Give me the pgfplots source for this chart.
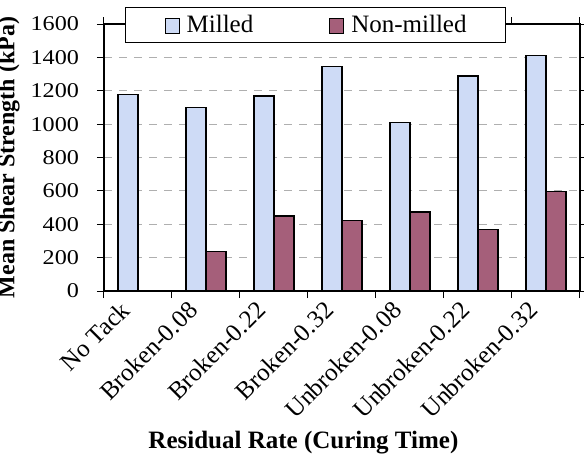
\documentclass[border=0pt]{standalone}
\usepackage{fontspec}
\setmainfont{Liberation Serif}
\usepackage{pgfplots}
\pgfplotsset{compat=1.18}
\definecolor{milled}{RGB}{206,219,246}
\definecolor{nonmilled}{RGB}{165,95,122}
\definecolor{gridgray}{RGB}{175,175,175}
\begin{document}
\begin{tikzpicture}
\path[use as bounding box] (-104pt,-165pt) rectangle (480pt,291pt);
\begin{axis}[
  at={(0pt,0pt)}, anchor=south west,
  scale only axis, width=476pt, height=267pt,
  ybar=0pt, bar width=20pt,
  xmin=-0.5, xmax=6.5, ymin=0, ymax=1600,
  xtick={0,...,6},
  xticklabels={No Tack,Broken-0.08,Broken-0.22,Broken-0.32,Unbroken-0.08,Unbroken-0.22,Unbroken-0.32},
  minor xtick={-0.5,0.5,...,6.5},
  major x tick style={draw=none},
  ytick={0,200,...,1600},
  tick align=outside,
  major tick length=7pt, minor tick length=7pt,
  every tick/.style={black, line width=1pt},
  ymajorgrids,
  grid style={gridgray, dash pattern=on 8pt off 7pt, line width=1pt},
  axis line style={line width=1.3pt},
  /pgf/number format/assume math mode=true,
  /pgf/number format/1000 sep={},
  yticklabel style={font=\fontsize{21}{24}\selectfont, black, xshift=-14pt, xscale=1.15, anchor=east},
  xticklabel style={font=\fontsize{25}{27}\selectfont, black, xshift=-13pt, yshift=-8pt, rotate=45, anchor=east, inner sep=0pt},
  xlabel={Residual Rate (Curing Time)},
  xlabel style={font=\bfseries\fontsize{25}{28}\selectfont, at={(axis description cs:0.419,-0.569)}, anchor=center},
  ylabel={Mean Shear Strength (kPa)},
  ylabel style={font=\bfseries\fontsize{24}{28}\selectfont, at={(axis description cs:-0.2,0.5)}, anchor=center},
  legend style={at={(axis description cs:0.0441,1.0637)}, anchor=north west, legend columns=-1,
    draw=black, line width=1.3pt, fill=white,
    font=\fontsize{25}{28}\selectfont,
    nodes={inner sep=0pt},
    inner xsep=39pt, inner ysep=8pt,
    /tikz/every odd column/.append style={column sep=7pt},
    /tikz/every even column/.append style={column sep=76pt}},
  legend image code/.code={\draw[#1, draw=black, line width=1pt] (0pt,-8pt) rectangle (14pt,7pt);},
]
\addplot[fill=milled, draw=black, line width=1.2pt] coordinates {(0,1176)(1,1098)(2,1168)(3,1346)(4,1010)(5,1288)(6,1410)};
\addplot[fill=nonmilled, draw=black, line width=1.2pt] coordinates {(1,236)(2,450)(3,422)(4,474)(5,370)(6,598)};
\legend{Milled,Non-milled}
\end{axis}
\end{tikzpicture}
\end{document}
